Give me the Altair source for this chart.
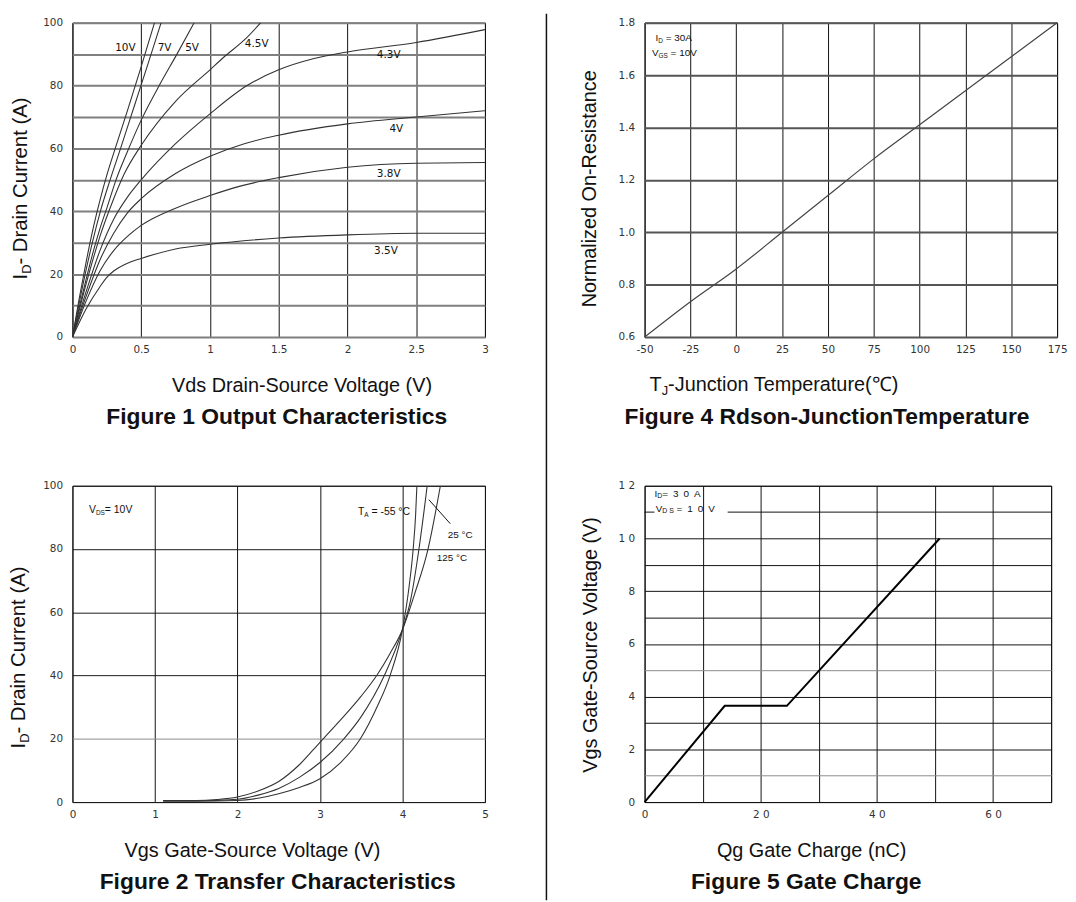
import altair as alt
import pandas as pd

TICK_FONT = "DejaVu Sans"
TEXT_FONT = "Liberation Sans"
INK = "#111111"
CURVE = "#333333"

# ---------------- Figure 1: Output characteristics ----------------
f1_vds_10v = [0, 0.05, 0.1, 0.15, 0.2, 0.25, 0.3, 0.4, 0.5, 0.597]
f1_id_10v = [0, 12.5, 24, 34.5, 43.5, 51.5, 58.5, 72, 86, 100]
f1_vds_7v = [0, 0.05, 0.1, 0.15, 0.2, 0.274, 0.35, 0.45, 0.55, 0.645]
f1_id_7v = [0, 11, 21.5, 31, 39.5, 50, 60, 73.5, 87, 100]
f1_vds_5v = [0, 0.05, 0.1, 0.15, 0.2, 0.25, 0.317, 0.4, 0.5, 0.637, 0.76, 0.885]
f1_id_5v = [0, 9.5, 18.5, 27, 34.5, 41, 50, 59, 69, 80.5, 90, 100]
f1_vds_45v = [0, 0.1, 0.2, 0.3, 0.378, 0.5, 0.75, 1.0, 1.1, 1.25, 1.37]
f1_id_45v = [0, 17, 32, 44, 52, 61, 75, 85, 89, 94.5, 100]
f1_vds_43v = [0, 0.1, 0.2, 0.3, 0.4, 0.5, 0.75, 1.0, 1.27, 1.5, 1.75, 2.0, 2.5, 3.0]
f1_id_43v = [0, 14.5, 27.5, 37.5, 44.5, 50, 61.5, 71, 80, 85, 88.5, 90.7, 93.7, 97.8]
f1_vds_4v = [0, 0.1, 0.2, 0.3, 0.4, 0.5, 0.75, 1.0, 1.25, 1.5, 2.0, 2.5, 3.0]
f1_id_4v = [0, 13, 24.5, 33, 39.5, 44, 52, 57.5, 61.5, 64.2, 67.8, 70, 72]
f1_vds_38v = [0, 0.1, 0.2, 0.3, 0.4, 0.5, 0.75, 1.0, 1.22, 1.5, 2.0, 2.5, 3.0]
f1_id_38v = [0, 11.5, 21, 27.5, 32, 35.5, 41, 45, 48, 50.7, 54, 55.3, 55.5]
f1_vds_35v = [0, 0.1, 0.2, 0.25, 0.3, 0.4, 0.5, 0.75, 1.0, 1.5, 2.0, 2.5, 3.0]
f1_id_35v = [0, 9, 16, 19, 21, 23.5, 25, 28, 29.5, 31.5, 32.5, 33, 33]

f1_label_text = ["10V", "7V", "5V", "4.5V", "4.3V", "4V", "3.8V", "3.5V"]
f1_label_x = [0.385, 0.67, 0.87, 1.34, 2.30, 2.355, 2.30, 2.28]
f1_label_y = [92, 92, 92, 93.3, 89.8, 66.3, 51.7, 27.3]

# ---------------- Figure 4: Rdson vs junction temperature ----------------
f4_tj = [-50, -25, 0, 25, 50, 75, 100, 125, 150, 175]
f4_rn = [0.6, 0.735, 0.86, 1.0, 1.14, 1.28, 1.41, 1.54, 1.67, 1.8]
f4_note_main = ["I", "V"]
f4_note_sub = ["D", "GS"]
f4_note_rest = [" = 30A", " = 10V"]
f4_note_x = [-44, -46]
f4_note_y = [1.74, 1.683]

# ---------------- Figure 2: Transfer characteristics ----------------
f2_vgs_m55 = [1.1, 1.5, 2.0, 2.25, 2.5, 2.75, 3.0, 3.25, 3.49, 3.7, 3.85, 4.0, 4.08, 4.13, 4.16, 4.175]
f2_id_m55 = [0.3, 0.3, 0.5, 1.2, 2.6, 4.6, 7.4, 12.5, 20, 30.5, 40, 54.5, 68, 80, 91, 100]
f2_vgs_25 = [1.1, 1.5, 2.0, 2.25, 2.5, 2.75, 3.0, 3.29, 3.5, 3.78, 4.0, 4.1, 4.2, 4.3]
f2_id_25 = [0.4, 0.4, 0.9, 2.2, 4.3, 7.8, 12.5, 20, 27, 40, 54.5, 64, 80, 100]
f2_vgs_125 = [1.1, 1.5, 1.75, 2.0, 2.25, 2.5, 2.75, 3.0, 3.25, 3.5, 3.7, 3.85, 4.0, 4.15, 4.31, 4.46]
f2_id_125 = [0.5, 0.5, 0.8, 1.6, 3.5, 6.5, 11.8, 18.9, 26, 33.5, 40.5, 47, 54.5, 66, 80, 100]
f2_note_main = ["V", "T"]
f2_note_sub = ["DS", "A"]
f2_note_rest = ["= 10V", " = -55 °C"]
f2_note_x = [0.2, 3.46]
f2_note_y = [92.2, 91.6]
f2_temp_text = ["25 °C", "125 °C"]
f2_temp_x = [4.70, 4.60]
f2_temp_y = [84.3, 77.0]
f2_leader_x = [4.32]
f2_leader_y = [95.6]
f2_leader_x2 = [4.58]
f2_leader_y2 = [88.0]

# ---------------- Figure 5: Gate charge ----------------
f5_qg = [0, 13.8, 24.5, 50.8]
f5_vgs = [0, 3.65, 3.65, 10.0]
f5_gap_x1 = [0, 14.3]
f5_gap_x2 = [1.7, 70]
f5_gap_y = [11, 11]
f5_note_main = ["I", "V"]
f5_note_sub = ["D", "D S"]
f5_note_rest = ["=\u20023\u20020\u2002A", " \u2002=\u20021\u20020\u2002V"]
f5_note_x = [1.7, 1.9]
f5_note_y = [11.7, 11.12]

captions = ["Figure 1 Output Characteristics", "Figure 4 Rdson-JunctionTemperature",
            "Figure 2 Transfer Characteristics", "Figure 5 Gate Charge"]

PLAIN = "toString(datum.value)"
SPACED = "join(split(toString(datum.value), ''), ' ')"

# Arial / Liberation Sans advance widths (em) for the few glyphs used in subscripted texts
ADV = {"I": 0.278, "V": 0.667, "T": 0.611, "D": 0.722, "G": 0.778, "S": 0.667, "A": 0.667,
       "J": 0.5, " ": 0.278}


def adv(s, size):
    return sum(ADV.get(c, 0.556) for c in s) * size


def x_axis(values, title, tx, grid_color=INK, grid_width=1, label_expr=PLAIN):
    kw = dict(values=values, grid=True, gridColor=grid_color, gridWidth=grid_width,
              ticks=False, domain=False, labelFont=TICK_FONT, labelFontSize=10.5,
              labelColor="#333333", labelPadding=8, labelFlush=False, labelOverlap=False,
              labelExpr=label_expr, title=title)
    if title is not None:
        kw.update(titleFont=TEXT_FONT, titleFontSize=20, titleFontWeight="normal",
                  titleColor=INK, titleX=tx, titleY=49, titleBaseline="middle", titleAlign="center")
    return alt.Axis(**kw)


def y_axis(values, title, tx, ty, grid_color=INK, grid_width=1, label_expr=PLAIN):
    kw = dict(values=values, grid=True, gridColor=grid_color, gridWidth=grid_width,
              ticks=False, domain=False, labelFont=TICK_FONT, labelFontSize=10.5,
              labelColor="#333333", labelPadding=10, labelFlush=False, labelOverlap=False,
              labelExpr=label_expr, title=title)
    if title is not None:
        kw.update(titleFont=TEXT_FONT, titleFontSize=20, titleFontWeight="normal",
                  titleColor=INK, titleX=tx, titleY=ty, titleBaseline="middle", titleAlign="center",
                  titleAngle=270)
    return alt.Axis(**kw)


def piece(text, px, py, size, angle=0, bold=False, align="left", baseline="alphabetic"):
    kw = dict(font=TEXT_FONT, fontSize=size, color=INK, align=align, baseline=baseline, angle=angle)
    if bold:
        kw["fontWeight"] = "bold"
    return alt.Chart(pd.DataFrame({"t": [text]})).mark_text(**kw).encode(
        text="t:N", x=alt.value(px), y=alt.value(py))


def caption(text, cx, cy):
    return piece(text, cx, cy, 23, bold=True, align="center", baseline="middle")


def vertical_sub_title(main, sub, rest, base_x, bottom_y, size=20.5, sub_size=13):
    # rotated (reading upwards) title with a subscript after the first letter
    y1 = bottom_y - adv(main, size)
    y2 = y1 - adv(sub, sub_size)
    return [piece(main, base_x, bottom_y, size, angle=270),
            piece(sub, base_x + 4, y1, sub_size, angle=270),
            piece(rest, base_x, y2, size, angle=270)]


def horizontal_sub_title(main, sub, rest, start_x, base_y, size=20, sub_size=13):
    x1 = start_x + adv(main, size)
    x2 = x1 + adv(sub, sub_size)
    return [piece(main, start_x, base_y, size),
            piece(sub, x1, base_y + 4, sub_size),
            piece(rest, x2, base_y, size)]


def sub_notes(mains, subs, rests, xs, ys, xenc, yenc, size=9.5, sub_size=6.5):
    layers = []
    for m, s, r, xv, yv in zip(mains, subs, rests, xs, ys):
        d = pd.DataFrame({"x": [xv], "y": [yv]})
        o1 = adv(m, size)
        stripped = r.lstrip(" ")
        o2 = o1 + adv(s, sub_size) + (len(r) - len(stripped)) * ADV[" "] * size
        for txt, dx, dy, sz in [(m, 0, 0, size), (s, o1, 2.5, sub_size), (stripped, o2, 0, size)]:
            layers.append(alt.Chart(d).mark_text(font=TEXT_FONT, fontSize=sz, color=INK, align="left",
                                                 baseline="middle", dx=dx, dy=dy).encode(
                x=xenc, y=yenc, text=alt.value(txt)))
    return layers


def long_table(pairs):
    rows = []
    for name, xs, ys in pairs:
        for i, (a, b) in enumerate(zip(xs, ys)):
            rows.append({"series": name, "x": a, "y": b, "o": i})
    return pd.DataFrame(rows)


# ---------- Panel A ----------
WA, HA = 416, 317
dfA = long_table([
    ("10V", f1_vds_10v, f1_id_10v), ("7V", f1_vds_7v, f1_id_7v), ("5V", f1_vds_5v, f1_id_5v),
    ("4.5V", f1_vds_45v, f1_id_45v), ("4.3V", f1_vds_43v, f1_id_43v), ("4V", f1_vds_4v, f1_id_4v),
    ("3.8V", f1_vds_38v, f1_id_38v), ("3.5V", f1_vds_35v, f1_id_35v)])
xA = alt.X("x:Q", scale=alt.Scale(domain=[0, 3], nice=False, zero=False),
           axis=x_axis([0, 0.5, 1, 1.5, 2, 2.5, 3], "Vds Drain-Source Voltage (V)", 231))
yA = alt.Y("y:Q", scale=alt.Scale(domain=[0, 100], nice=False),
           axis=y_axis(list(range(0, 101, 10)), None, 0, 0,
                       grid_color="#7f7f7f", grid_width=2,
                       label_expr="datum.value % 20 == 0 ? toString(datum.value) : ''"))
linesA = alt.Chart(dfA).mark_line(color=CURVE, strokeWidth=1.1, interpolate="monotone", clip=True).encode(
    x=xA, y=yA, detail="series:N", order="o:Q")
labelsA = alt.Chart(pd.DataFrame({"x": f1_label_x, "y": f1_label_y, "t": f1_label_text})).mark_text(
    font=TICK_FONT, fontSize=10.5, color=INK, align="center", baseline="middle").encode(
    x=xA, y=yA, text="t:N")
divider = alt.Chart(pd.DataFrame({"d": [0]})).mark_rule(color=INK, strokeWidth=1.5).encode(
    x=alt.value(478), y=alt.value(-9), y2=alt.value(885))
panelA = alt.layer(linesA, labelsA, divider, caption(captions[0], 206, 398),
                   *vertical_sub_title("I", "D", "- Drain Current (A)", -46, 259)).properties(width=WA, height=HA)

# ---------- Panel B ----------
WB, HB = 416, 317
dfB = pd.DataFrame({"x": f4_tj, "y": f4_rn})
xB = alt.X("x:Q", scale=alt.Scale(domain=[-50, 175], nice=False, zero=False),
           axis=x_axis(list(range(-50, 176, 25)), None, 0))
yB = alt.Y("y:Q", scale=alt.Scale(domain=[0.6, 1.8], nice=False, zero=False),
           axis=y_axis([0.6, 0.8, 1.0, 1.2, 1.4, 1.6, 1.8], "Normalized On-Resistance", -56, 167,
                       grid_color="#555555", grid_width=2, label_expr="format(datum.value, '.1f')"))
lineB = alt.Chart(dfB).mark_line(color="#444444", strokeWidth=1.2, interpolate="monotone").encode(x=xB, y=yB)
panelB = alt.layer(lineB,
                   *sub_notes(f4_note_main, f4_note_sub, f4_note_rest, f4_note_x, f4_note_y, xB, yB, size=10),
                   *horizontal_sub_title("T", "J", "-Junction Temperature(℃)", 5, 371),
                   caption(captions[1], 184, 398)).properties(width=WB, height=HB)

# ---------- Panel C ----------
WC, HC = 416, 319
dfC = long_table([("-55", f2_vgs_m55, f2_id_m55), ("25", f2_vgs_25, f2_id_25), ("125", f2_vgs_125, f2_id_125)])
xC = alt.X("x:Q", scale=alt.Scale(domain=[0, 5], nice=False, zero=False),
           axis=x_axis([0, 1, 2, 3, 4, 5], "Vgs Gate-Source Voltage (V)", 181))
yC = alt.Y("y:Q", scale=alt.Scale(domain=[0, 100], nice=False),
           axis=y_axis([0, 20, 40, 60, 80, 100], None, 0, 0,
                       grid_color={"condition": {"test": "datum.value == 20", "value": "#8c8c8c"},
                                   "value": "#1a1a1a"}))
linesC = alt.Chart(dfC).mark_line(color=CURVE, strokeWidth=1.1, interpolate="monotone", clip=True).encode(
    x=xC, y=yC, detail="series:N", order="o:Q")
tempsC = alt.Chart(pd.DataFrame({"x": f2_temp_x, "y": f2_temp_y, "t": f2_temp_text})).mark_text(
    font=TEXT_FONT, fontSize=10, color=INK, align="center", baseline="middle").encode(x=xC, y=yC, text="t:N")
leaderC = alt.Chart(pd.DataFrame({"x": f2_leader_x, "y": f2_leader_y, "x2": f2_leader_x2, "y2": f2_leader_y2})).mark_rule(
    color=INK, strokeWidth=1).encode(x=xC, y=yC, x2="x2:Q", y2="y2:Q")
panelC = alt.layer(linesC, tempsC, leaderC,
                   *sub_notes(f2_note_main, f2_note_sub, f2_note_rest, f2_note_x, f2_note_y, xC, yC, size=10.5),
                   *vertical_sub_title("I", "D", "- Drain Current (A)", -48, 265),
                   caption(captions[2], 207, 400)).properties(width=WC, height=HC)

# ---------- Panel D ----------
WD, HD = 410, 319
dfD = pd.DataFrame({"x": f5_qg, "y": f5_vgs})
xD = alt.X("x:Q", scale=alt.Scale(domain=[0, 70], nice=False, zero=False),
           axis=x_axis(list(range(0, 71, 10)), "Qg Gate Charge (nC)", 168,
                       label_expr="datum.value % 20 == 0 ? " + SPACED + " : ''"))
yD = alt.Y("y:Q", scale=alt.Scale(domain=[0, 12], nice=False),
           axis=y_axis([0, 1, 2, 3, 4, 5, 6, 7, 8, 9, 10, 12], "Vgs Gate-Source Voltage (V)", -54, 160,
                       grid_color={"condition": {"test": "datum.value == 5 || datum.value == 1",
                                                 "value": "#8c8c8c"}, "value": "#111111"},
                       label_expr="datum.value % 2 == 0 ? " + SPACED + " : ''"))
gapD = alt.Chart(pd.DataFrame({"x": f5_gap_x1, "x2": f5_gap_x2, "y": f5_gap_y})).mark_rule(
    color=INK, strokeWidth=1).encode(x=xD, x2="x2:Q", y=yD)
lineD = alt.Chart(dfD).mark_line(color="#000000", strokeWidth=2).encode(x=xD, y=yD)
panelD = alt.layer(gapD, lineD,
                   *sub_notes(f5_note_main, f5_note_sub, f5_note_rest, f5_note_x, f5_note_y, xD, yD,
                              size=10, sub_size=7),
                   caption(captions[3], 163, 400)).properties(width=WD, height=HD)

chart = alt.concat(panelA, panelB, panelC, panelD, columns=2, bounds="flush",
                   spacing={"row": 150, "column": 161}).properties(
    padding=0, background="white").configure_view(stroke=INK, strokeWidth=1)

chart.save("out.html", embed_options={"renderer": "svg", "actions": False})
